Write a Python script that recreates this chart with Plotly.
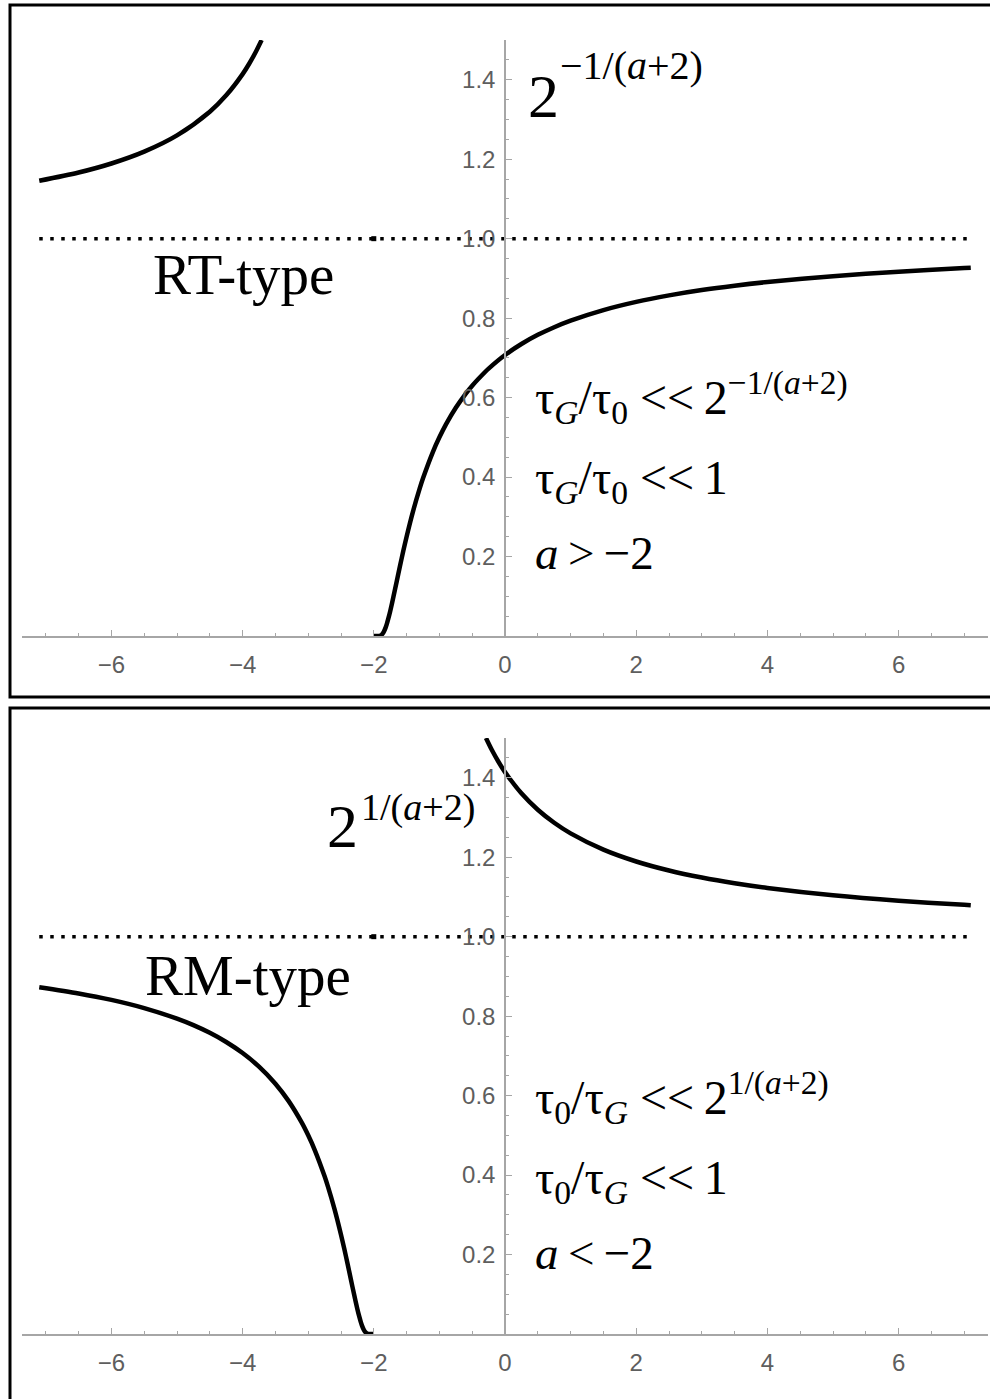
import plotly.graph_objects as go

W, H = 990, 1399

# ---- data -------------------------------------------------------------
# Upper panel: 2^(-1/(a+2)), two branches split at a = -2
rt_left_a = [-7.1, -6.5, -6.0, -5.5, -5.0, -4.5, -4.25, -4.0, -3.9, -3.8, -3.71]
rt_left_v = [1.1457, 1.1665, 1.1892, 1.2190, 1.2599, 1.3195, 1.3608, 1.4142, 1.4402, 1.4697, 1.4998]

rt_right_a = [-2.0, -1.95, -1.92, -1.9, -1.88, -1.85, -1.82, -1.8, -1.78, -1.75, -1.7, -1.65,
              -1.6, -1.55, -1.5, -1.4, -1.3, -1.25, -1.1, -1.0, -0.9, -0.75, -0.6, -0.5,
              -0.3, -0.25, 0.0, 0.25, 0.5, 0.75, 1.0, 1.5, 2.0, 2.5, 3.0, 3.5, 4.0, 5.0,
              6.0, 7.0, 7.1]
rt_right_v = [0.0, 0.0, 0.0002, 0.001, 0.0031, 0.0098, 0.0212, 0.0313, 0.0429, 0.0625, 0.0992, 0.1379,
              0.1768, 0.2143, 0.25, 0.315, 0.3715, 0.3969, 0.463, 0.5, 0.5325, 0.5743, 0.6095, 0.63,
              0.665, 0.6729, 0.7071, 0.7349, 0.7579, 0.7772, 0.7937, 0.8203, 0.8409, 0.8572, 0.8706, 0.8816, 0.8909, 0.9057,
              0.917, 0.9259, 0.9267]

# Lower panel: 2^(1/(a+2))
rm_left_a = [-7.1, -6.5, -6.0, -5.5, -5.0, -4.75, -4.5, -4.25, -4.0, -3.75, -3.5, -3.3,
             -3.1, -3.0, -2.9, -2.75, -2.7, -2.6, -2.5, -2.45, -2.4, -2.35, -2.3, -2.25,
             -2.22, -2.2, -2.18, -2.15, -2.12, -2.1, -2.08, -2.05, -2.0]
rm_left_v = [0.8728, 0.8572, 0.8409, 0.8203, 0.7937, 0.7772, 0.7579, 0.7349, 0.7071, 0.6729, 0.63, 0.5867,
             0.5325, 0.5, 0.463, 0.3969, 0.3715, 0.315, 0.25, 0.2143, 0.1768, 0.1379, 0.0992, 0.0625,
             0.0429, 0.0313, 0.0212, 0.0098, 0.0031, 0.001, 0.0002, 0.0, 0.0]

rm_right_a = [-0.29, -0.2, -0.1, 0.0, 0.25, 0.5, 0.75, 1.0, 1.5, 2.0, 2.5, 3.0, 3.5, 4.0,
              5.0, 6.0, 7.0, 7.1]
rm_right_v = [1.5, 1.4697, 1.4402, 1.4142, 1.3608, 1.3195, 1.2866, 1.2599, 1.219, 1.1892, 1.1665, 1.1487, 1.1343, 1.1225,
              1.1041, 1.0905, 1.0801, 1.0791]

ref_a = [-7.1, 7.1]
ref_v = [1.0, 1.0]

x_ticks = [-6, -4, -2, 0, 2, 4, 6]
y_ticks = [0.2, 0.4, 0.6, 0.8, 1.0, 1.2, 1.4]

# ---- layout helpers ---------------------------------------------------
def px(x):
    return x / W

def py(y):
    return 1 - y / H

X0_PX, UNIT = 505.0, 65.6          # pixel of a=0, pixels per unit
AX_L, AX_R = 22.0, 988.0
xr = [(AX_L - X0_PX) / UNIT, (AX_R - X0_PX) / UNIT]

fig = go.Figure()

curve = dict(color="black", width=4.5, shape="spline", smoothing=0.8)
dots = dict(color="black", width=3.5, dash="3.5px,7.5px")

def add_panel(xa, ya, branches):
    fig.add_trace(go.Scatter(x=ref_a, y=ref_v, mode="lines", line=dots,
                             xaxis=xa, yaxis=ya, hoverinfo="skip"))
    fig.add_trace(go.Scatter(x=[-2], y=[1], mode="markers",
                             marker=dict(symbol="square", size=5, color="black"),
                             xaxis=xa, yaxis=ya, hoverinfo="skip"))
    for a, v in branches:
        fig.add_trace(go.Scatter(x=a, y=v, mode="lines", line=curve,
                                 xaxis=xa, yaxis=ya, hoverinfo="skip"))

add_panel("x", "y", [(rt_left_a, rt_left_v), (rt_right_a, rt_right_v)])
add_panel("x2", "y2", [(rm_left_a, rm_left_v), (rm_right_a, rm_right_v)])

tick_font = dict(family="Liberation Sans, Arial", size=24, color="#5e5e5e")
axis_col = "#a6a6a6"

def xaxis(anchor):
    return dict(domain=[px(AX_L), px(AX_R)], range=xr, anchor=anchor,
                showgrid=False, zeroline=False, showline=True, linecolor=axis_col, linewidth=1.5,
                tickmode="array", tickvals=x_ticks, ticks="inside", ticklen=6, tickcolor=axis_col,
                tickwidth=1, tickfont=tick_font, ticklabelstandoff=6,
                minor=dict(dtick=0.5, tick0=0, ticks="inside", ticklen=3, tickcolor=axis_col),
                fixedrange=True)

def yaxis(dom):
    return dict(domain=dom, range=[0, 1.5], anchor="free", position=px(X0_PX), side="left",
                showgrid=False, zeroline=False, showline=True, linecolor=axis_col, linewidth=1.5,
                tickmode="array", tickvals=y_ticks, ticktext=[f"{t:.1f}" for t in y_ticks],
                ticks="inside", ticklen=6, tickcolor=axis_col, tickwidth=1,
                tickfont=tick_font, ticklabelstandoff=4,
                minor=dict(dtick=0.05, tick0=0, ticks="inside", ticklen=3, tickcolor=axis_col),
                fixedrange=True)

fig.update_layout(
    width=W, height=H, margin=dict(l=0, r=0, t=0, b=0),
    paper_bgcolor="white", plot_bgcolor="rgba(0,0,0,0)", showlegend=False,
    xaxis=xaxis("y"), yaxis=yaxis([py(636), py(40)]),
    xaxis2=xaxis("y2"), yaxis2=yaxis([py(1334), py(738)]),
)

# panel frames
fig.add_shape(type="rect", xref="paper", yref="paper",
              x0=px(10), x1=px(992), y0=py(697), y1=py(5),
              line=dict(color="black", width=3))
fig.add_shape(type="rect", xref="paper", yref="paper",
              x0=px(10), x1=px(992), y0=py(1402), y1=py(708),
              line=dict(color="black", width=3))

serif = "Liberation Serif, Times New Roman, serif"

def label(text, x, y, size):
    fig.add_annotation(text=text, xref="paper", yref="paper", x=px(x), y=py(y),
                       xanchor="left", yanchor="middle", showarrow=False,
                       font=dict(family=serif, size=size, color="black"))

# upper panel text: large power of two with its exponent
label("2", 526, 96, 62)
label("\u22121/(<i>a</i>+2)", 558, 66, 40)
label("RT-type", 151, 274, 57)
label("\u03c4<sub><i>G</i></sub>/\u03c4<sub>0</sub> &lt;&lt;\u20092<sup>\u22121/(<i>a</i>+2)</sup>", 533, 398, 48)
label("\u03c4<sub><i>G</i></sub>/\u03c4<sub>0</sub> &lt;&lt;\u20091", 533, 481, 48)
label("<i>a</i>\u2009&gt;\u2009\u22122", 533, 553, 47)

# lower panel text
label("2", 325, 826, 62)
label("1/(<i>a</i>+2)", 359, 807, 38)
label("RM-type", 143, 975, 57)
label("\u03c4<sub>0</sub>/\u03c4<sub><i>G</i></sub> &lt;&lt;\u20092<sup>1/(<i>a</i>+2)</sup>", 533, 1097, 48)
label("\u03c4<sub>0</sub>/\u03c4<sub><i>G</i></sub> &lt;&lt;\u20091", 533, 1181, 48)
label("<i>a</i>\u2009&lt;\u2009\u22122", 533, 1253, 47)

fig.write_html("out.html")
